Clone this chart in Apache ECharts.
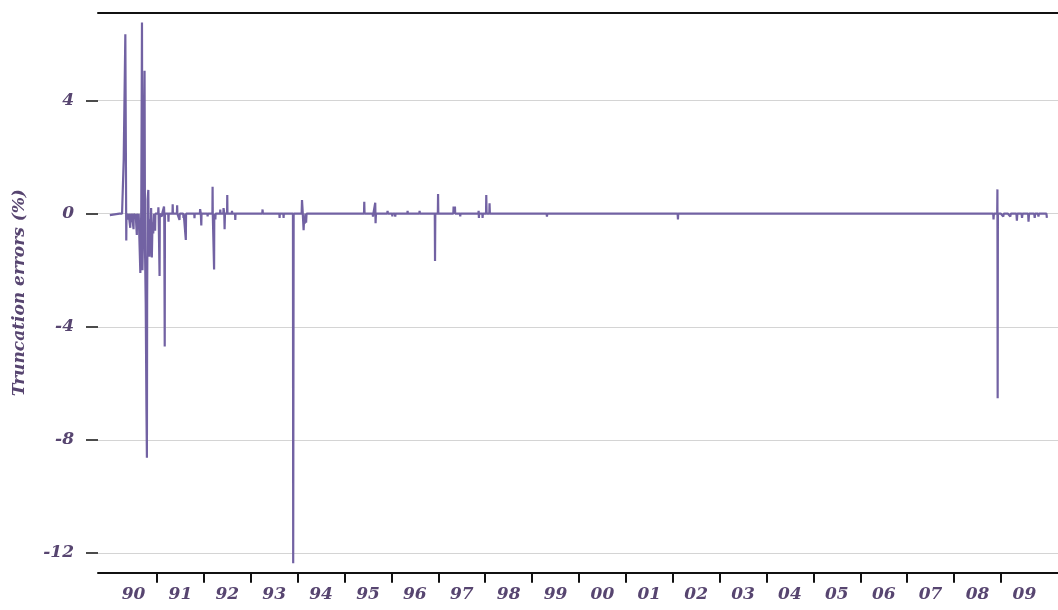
<!DOCTYPE html>
<html>
<head>
<meta charset="utf-8">
<title>Truncation errors</title>
<script src="https://cdn.jsdelivr.net/npm/echarts@6.0.0/dist/echarts.min.js"></script>
<style>
  html, body { margin: 0; padding: 0; background: #fff; }
  #chart { width: 1058px; height: 610px; }
</style>
</head>
<body>
<div id="chart"></div>
<script>
// x = decimal year, y = truncation error (%)
const errors1990 = [
  [1989.995, -0.05], [1990.20, 0], [1990.255, 0], [1990.29, 1.9], [1990.325, 6.35], [1990.345, -0.95], [1990.35, 0],
  [1990.385, 0], [1990.39, -0.2], [1990.395, 0], [1990.425, 0], [1990.43, -0.5], [1990.435, 0],
  [1990.455, 0], [1990.46, -0.3], [1990.465, 0], [1990.495, 0], [1990.50, -0.55], [1990.505, 0],
  [1990.535, 0], [1990.54, -0.15], [1990.545, 0], [1990.565, 0], [1990.57, -0.75], [1990.575, 0],
  [1990.60, 0], [1990.605, -0.3], [1990.61, 0], [1990.64, 0], [1990.645, -2.1],
  [1990.665, 0.2], [1990.68, 6.76], [1990.69, -2.0], [1990.705, -0.5], [1990.715, 1.5], [1990.735, 5.06],
  [1990.745, -1.3], [1990.76, -3.2], [1990.775, -6.85], [1990.785, -8.63], [1990.79, -3.0], [1990.80, 0.5],
  [1990.815, 0.84], [1990.825, -1.0], [1990.84, -1.52], [1990.855, -0.2], [1990.865, -0.9], [1990.875, 0.2],
  [1990.89, -1.55], [1990.905, -0.3], [1990.92, -0.7], [1990.935, 0], [1990.955, 0], [1990.96, -0.6], [1990.965, 0]
];
const errors1991 = [
  [1991.025, 0], [1991.03, 0.23], [1991.035, 0], [1991.05, 0], [1991.055, -2.2], [1991.06, 0],
  [1991.10, 0], [1991.105, -0.1], [1991.11, 0], [1991.145, 0], [1991.15, 0.25], [1991.155, 0],
  [1991.16, 0], [1991.165, -4.7], [1991.17, 0], [1991.24, 0], [1991.245, -0.28], [1991.25, 0],
  [1991.33, 0], [1991.335, 0.33], [1991.34, 0], [1991.425, 0], [1991.43, 0.3], [1991.435, 0],
  [1991.475, 0], [1991.48, -0.22], [1991.485, 0], [1991.56, 0], [1991.565, -0.15], [1991.57, 0],
  [1991.61, 0], [1991.615, -0.93], [1991.62, 0], [1991.795, 0], [1991.80, -0.16], [1991.805, 0],
  [1991.915, 0], [1991.92, 0.16], [1991.935, 0], [1991.945, -0.42], [1991.95, 0]
];
const errors1992to1994 = [
  [1992.075, 0], [1992.08, -0.1], [1992.085, 0], [1992.182, 0], [1992.186, 0.95], [1992.19, 0], [1992.214, 0],
  [1992.218, -1.97], [1992.222, 0], [1992.24, 0], [1992.245, -0.2], [1992.25, 0], [1992.345, 0], [1992.35, 0.15],
  [1992.355, 0], [1992.415, 0], [1992.42, 0.2], [1992.435, 0], [1992.442, -0.55], [1992.45, 0], [1992.495, 0],
  [1992.499, 0.66], [1992.503, 0], [1992.595, 0], [1992.60, 0.1], [1992.605, 0], [1992.665, 0], [1992.67, -0.22],
  [1992.675, 0], [1993.245, 0], [1993.252, 0.15], [1993.258, 0], [1993.295, 0], [1993.30, -0.05], [1993.305, 0],
  [1993.375, 0], [1993.38, -0.05], [1993.385, 0], [1993.61, 0], [1993.615, -0.15], [1993.62, 0], [1993.695, 0],
  [1993.70, -0.15], [1993.705, 0], [1993.90, 0], [1993.905, -12.37], [1993.91, -5.85], [1993.915, 0],
  [1994.085, 0], [1994.093, 0.48], [1994.11, 0], [1994.127, -0.58], [1994.14, -0.1], [1994.15, -0.35],
  [1994.165, 0], [1994.18, -0.32], [1994.19, 0]
];
const errors1995to1999 = [
  [1995.415, 0], [1995.421, 0.42], [1995.427, 0], [1995.60, 0], [1995.607, -0.1], [1995.615, 0],
  [1995.65, 0], [1995.655, 0.39], [1995.662, -0.34], [1995.67, 0], [1995.91, 0], [1995.918, 0.1], [1995.925, 0],
  [1996.015, 0], [1996.02, -0.1], [1996.025, 0], [1996.075, 0], [1996.082, -0.1], [1996.088, 0], [1996.34, 0],
  [1996.345, 0.1], [1996.35, 0], [1996.595, 0], [1996.601, 0.1], [1996.607, 0], [1996.925, 0], [1996.93, -1.67],
  [1996.936, 0], [1996.99, 0], [1996.995, 0.70], [1997.0, 0], [1997.32, 0], [1997.326, 0.25], [1997.34, 0.05],
  [1997.355, 0.25], [1997.36, 0], [1997.463, 0], [1997.468, -0.1], [1997.473, 0], [1997.675, 0], [1997.68, 0.05],
  [1997.685, 0], [1997.855, 0], [1997.86, 0.1], [1997.866, -0.15], [1997.87, 0], [1997.94, 0], [1997.944, -0.15],
  [1997.95, 0], [1998.018, 0], [1998.023, 0.66], [1998.03, 0], [1998.088, 0], [1998.093, 0.37], [1998.10, 0],
  [1999.31, 0], [1999.317, -0.1], [1999.325, 0], [1999.95, 0], [1999.957, -0.03], [1999.965, 0]
];
const errors2000to2009 = [
  [2002.105, 0], [2002.111, -0.2], [2002.117, 0], [2003.08, 0], [2003.084, -0.05], [2003.09, 0], [2003.58, 0],
  [2003.583, -0.05], [2003.59, 0], [2003.845, 0], [2003.85, -0.05], [2003.855, 0], [2004.25, 0],
  [2004.257, 0.05], [2004.264, 0], [2005.63, 0], [2005.637, -0.05], [2005.644, 0], [2005.885, 0],
  [2005.89, -0.05], [2005.895, 0], [2006.145, 0], [2006.149, -0.05], [2006.155, 0],
  [2008.835, 0], [2008.842, -0.2], [2008.85, 0], [2008.92, 0], [2008.925, 0.86], [2008.93, -6.53], [2008.935, 0],
  [2009.0, 0], [2009.05, -0.1], [2009.06, 0], [2009.15, 0], [2009.2, -0.1], [2009.21, 0], [2009.33, 0],
  [2009.34, -0.25], [2009.35, 0], [2009.44, 0], [2009.45, -0.15], [2009.46, 0], [2009.58, 0], [2009.588, -0.28],
  [2009.6, 0], [2009.71, 0], [2009.72, -0.15], [2009.73, 0], [2009.79, 0], [2009.80, -0.1], [2009.81, 0],
  [2009.97, 0], [2009.98, -0.15]
];

const years = [1990, 1991, 1992, 1993, 1994, 1995, 1996, 1997, 1998, 1999,
  2000, 2001, 2002, 2003, 2004, 2005, 2006, 2007, 2008, 2009];
const yearLabels = ['90', '91', '92', '93', '94', '95', '96', '97', '98', '99',
  '00', '01', '02', '03', '04', '05', '06', '07', '08', '09'];
const yTicks = [-12, -8, -4, 0, 4];
const yTickLabels = ['-12', '-8', '-4', '0', '4'];

const textColor = '#574570';
const lineColor = '#7262a3';
const font = 'DejaVu Serif';

const chart = echarts.init(document.getElementById('chart'));
const xMin = 1989.742;
const xMax = 2010.217;

chart.setOption({
  animation: false,
  backgroundColor: '#fff',
  grid: { left: 98, right: 0, top: 12.7, bottom: 37.3 },
  xAxis: [
    {
      type: 'value',
      min: xMin,
      max: xMax,
      axisLine: { onZero: false, lineStyle: { color: '#111', width: 2 } },
      axisTick: {
        show: true,
        customValues: years.slice(1),
        length: 10,
        lineStyle: { color: '#111', width: 2 }
      },
      axisLabel: {
        customValues: years.map(y => y + 0.5),
        formatter: v => yearLabels[years.indexOf(Math.round(v - 0.5))],
        margin: 13,
        color: textColor,
        fontFamily: font,
        fontStyle: 'italic',
        fontWeight: 'bold',
        fontSize: 17
      },
      splitLine: { show: false }
    },
    {
      type: 'value',
      position: 'top',
      min: xMin,
      max: xMax,
      axisLine: { show: true, onZero: false, lineStyle: { color: '#111', width: 2 } },
      axisTick: { show: false },
      axisLabel: { show: false },
      splitLine: { show: false }
    }
  ],
  yAxis: {
    type: 'value',
    min: -12.7,
    max: 7.11,
    name: 'Truncation errors (%)',
    nameLocation: 'middle',
    nameGap: 70,
    nameTextStyle: {
      color: textColor,
      fontFamily: font,
      fontStyle: 'italic',
      fontWeight: 'bold',
      fontSize: 17
    },
    axisLine: { show: false },
    axisTick: {
      show: true,
      customValues: yTicks,
      length: 12,
      lineStyle: { color: '#111', width: 1.5 }
    },
    axisLabel: {
      customValues: yTicks,
      formatter: v => yTickLabels[yTicks.indexOf(v)],
      margin: 24,
      color: textColor,
      fontFamily: font,
      fontStyle: 'italic',
      fontWeight: 'bold',
      fontSize: 17
    },
    splitLine: { show: true, lineStyle: { color: '#d4d4d4', width: 1 } }
  },
  series: [{
    type: 'line',
    xAxisIndex: 0,
    data: [...errors1990, ...errors1991, ...errors1992to1994, ...errors1995to1999, ...errors2000to2009],
    symbol: 'none',
    lineStyle: { color: lineColor, width: 2.2 },
    clip: true
  }]
});
</script>
</body>
</html>
